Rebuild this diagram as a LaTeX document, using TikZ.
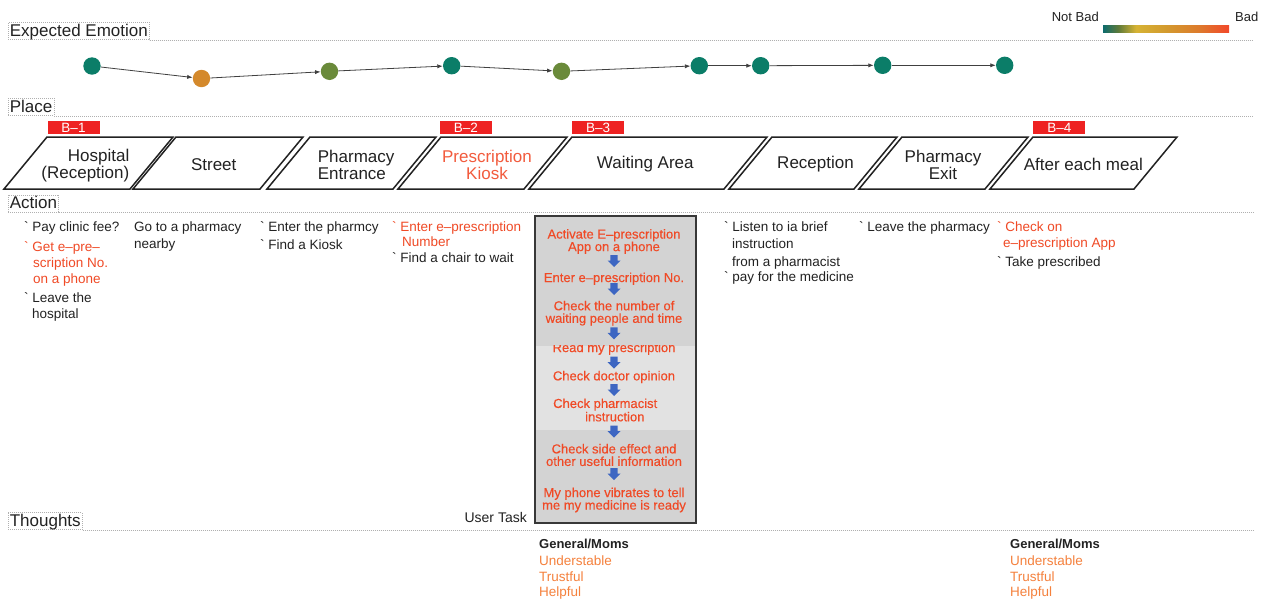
\documentclass[tikz,border=0pt]{standalone}
\usepackage{fontspec}
\setmainfont{Liberation Sans}
\newfontfamily\taskface{Liberation Sans}[FakeBold=0.35]
\usetikzlibrary{arrows.meta}

\definecolor{ink}{HTML}{222222}
\definecolor{alert}{HTML}{F04A26}
\definecolor{kiosk}{HTML}{F25B3D}
\definecolor{thought}{HTML}{F5813D}
\definecolor{dotgray}{HTML}{B0B0B0}
\definecolor{emoTeal}{HTML}{0B7D68}
\definecolor{emoOrange}{HTML}{D4892C}
\definecolor{emoOlive}{HTML}{6A8A3A}
\definecolor{tagred}{HTML}{EE2222}
\definecolor{taskDark}{HTML}{D3D3D3}
\definecolor{taskLight}{HTML}{E2E2E2}
\definecolor{flowblue}{HTML}{3D66C2}
\definecolor{g1}{HTML}{0E6B6C}
\definecolor{g2}{HTML}{5E7A3A}
\definecolor{g3}{HTML}{D6B334}
\definecolor{g4}{HTML}{D39A2E}
\definecolor{g5}{HTML}{DD7A2C}
\definecolor{g6}{HTML}{F2482A}

\pgfdeclarehorizontalshading{emoscale}{100bp}{color(0bp)=(g1); color(25bp)=(g1); color(31bp)=(g2); color(38bp)=(g3); color(50bp)=(g4); color(63bp)=(g5); color(75bp)=(g6); color(100bp)=(g6)}

% small grave tick in front of each action item
\newcommand\tk{{\XeTeXglyph\XeTeXcharglyph"60\relax}}
\newcommand\actfont{\fontsize{13.5}{16}\selectfont}
\newcommand\placefont{\fontsize{17}{16.5}\selectfont}
\newcommand\taskfont{\taskface\fontsize{13}{12.5}\selectfont}

\begin{document}
\begin{tikzpicture}[x=1pt,y=-1pt,
  hdr/.style={draw=dotgray, dash pattern=on 1pt off 1pt, line width=0.7pt,
    font=\fontsize{17}{17}\selectfont, text=ink, inner xsep=1.5pt, inner ysep=0.6pt,
    text height=13.2pt, text depth=2.9pt, anchor=south west},
  sepline/.style={draw=dotgray, dash pattern=on 1pt off 1pt, line width=0.7pt},
  emodot/.style={circle, minimum size=17.4pt, inner sep=0pt, draw=none},
  emoarrow/.style={draw=black!75, line width=0.8pt, -{Latex[length=5.5pt,width=4.2pt]}},
  placebox/.style={draw=ink, line width=1.5pt, fill=white},
  placelbl/.style={font=\placefont, text=ink, inner sep=0pt, yshift=-2pt},
  btag/.style={fill=tagred, text=white, font=\fontsize{13.5}{13.5}\selectfont,
    minimum width=52pt, minimum height=13pt, inner sep=0pt},
  act/.style={anchor=mid west, inner sep=0pt, font=\actfont, text=ink, yshift=-2.5pt},
  tasktxt/.style={font=\taskfont, text=alert, align=center, inner sep=0pt, yshift=-2pt},
  flowarrow/.style={fill=flowblue},
  thoughttxt/.style={anchor=mid west, inner sep=0pt, font=\fontsize{13.5}{16}\selectfont, text=thought, yshift=-2.5pt},
  smalltxt/.style={inner sep=0pt, text=ink, yshift=-2.5pt}
]
\useasboundingbox[fill=white] (0,0) rectangle (1264,600);

% ---------- section headers and separators ----------
\coordinate (endEmo) at (1253,40);
\coordinate (endPlace) at (1253,116);
\coordinate (endAct) at (1253,212.5);
\coordinate (endTh) at (1253,530);

\node[hdr] (hEmo) at (8,40) {Expected Emotion};
\draw[sepline] (hEmo.south east) -- (endEmo);
\node[hdr] (hPlace) at (8,116) {Place};
\draw[sepline] (hPlace.south east) -- (endPlace);
\node[hdr] (hAct) at (8,212.5) {Action};
\draw[sepline] (hAct.south east) -- (endAct);
\node[hdr] (hTh) at (8,530) {Thoughts};
\draw[sepline] (hTh.south east) -- (endTh);

% ---------- legend ----------
\node[smalltxt, anchor=mid east, font=\fontsize{13}{13}\selectfont] (lgNot) at (1099,16) {Not Bad};
\node[smalltxt, anchor=mid west, font=\fontsize{13}{13}\selectfont] (lgBad) at (1235,16) {Bad};
\node[shade, shading=emoscale, minimum width=126pt, minimum height=7pt, inner sep=0pt, anchor=north west] (lgBar) at (1103,25) {};

% ---------- expected emotion curve ----------
\node[emodot, fill=emoTeal]   (d1) at (92,66) {};
\node[emodot, fill=emoOrange] (d2) at (201.5,78.5) {};
\node[emodot, fill=emoOlive]  (d3) at (329.5,71.3) {};
\node[emodot, fill=emoTeal]   (d4) at (451.7,65.7) {};
\node[emodot, fill=emoOlive]  (d5) at (561.5,71.3) {};
\node[emodot, fill=emoTeal]   (d6) at (699.3,65.7) {};
\node[emodot, fill=emoTeal]   (d7) at (760.7,65.7) {};
\node[emodot, fill=emoTeal]   (d8) at (882.7,65.3) {};
\node[emodot, fill=emoTeal]   (d9) at (1004.7,65.3) {};
\draw[emoarrow] (d1) -- (d2);
\draw[emoarrow] (d2) -- (d3);
\draw[emoarrow] (d3) -- (d4);
\draw[emoarrow] (d4) -- (d5);
\draw[emoarrow] (d5) -- (d6);
\draw[emoarrow] (d6) -- (d7);
\draw[emoarrow] (d7) -- (d8);
\draw[emoarrow] (d8) -- (d9);

% ---------- places ----------
\foreach \a/\b in {47/173, 176/303, 310/436, 441/567, 572/767, 772/897, 902/1028, 1033/1177}
  \draw[placebox] (\a,137) -- (\b,137) -- ({\b-43},189) -- ({\a-43},189) -- cycle;

\node[placelbl, align=right, anchor=east] (pHosp) at (129.5,163.5) {Hospital\hspace{4pt}\\(Reception)};
\node[placelbl] (pStreet) at (213.7,162.7) {Street};
\node[placelbl, align=left, anchor=west] (pEntr) at (317.7,162.7) {Pharmacy\\Entrance};
\node[placelbl, align=center, text=kiosk] (pKiosk) at (487,162.7) {Prescription\\Kiosk};
\node[placelbl] (pWait) at (645.3,162.3) {Waiting Area};
\node[placelbl] (pRecep) at (815.5,162.3) {Reception};
\node[placelbl, align=center] (pExit) at (943,163) {Pharmacy\\Exit};
\node[placelbl] (pMeal) at (1083.3,162.3) {After each meal};

\node[btag] (b1) at (73.5,127.8) {B–1};
\node[btag] (b2) at (465.8,127.8) {B–2};
\node[btag] (b3) at (598.2,127.8) {B–3};
\node[btag] (b4) at (1059.3,127.8) {B–4};

% ---------- actions ----------
\node[act] (c1a) at (24,226) {\tk\ Pay clinic fee?};
\node[act, text=alert] (c1b) at (24,246) {\tk\ Get e–pre–};
\node[act, text=alert] (c1c) at (33,262) {scription No.};
\node[act, text=alert] (c1d) at (33,278) {on a phone};
\node[act] (c1e) at (24,297) {\tk\ Leave the};
\node[act] (c1f) at (32,313) {hospital};

\node[act] (c2a) at (134,226) {Go to a pharmacy};
\node[act] (c2b) at (134,243) {nearby};

\node[act] (c3a) at (260,226) {\tk\ Enter the pharmcy};
\node[act] (c3b) at (260,244) {\tk\ Find a Kiosk};

\node[act, text=alert] (c4a) at (392,226) {\tk\ Enter e–prescription};
\node[act, text=alert] (c4b) at (402,241) {Number};
\node[act] (c4c) at (392,257) {\tk\ Find a chair to wait};

\node[act] (c5a) at (724,226) {\tk\ Listen to ia brief};
\node[act] (c5b) at (732,243) {instruction};
\node[act] (c5c) at (732,261) {from a pharmacist};
\node[act] (c5d) at (724,276) {\tk\ pay for the medicine};

\node[act] (c6a) at (859,226) {\tk\ Leave the pharmacy};

\node[act, text=alert] (c7a) at (997,226) {\tk\ Check on};
\node[act, text=alert] (c7b) at (1003,242) {e–prescription App};
\node[act] (c7c) at (997,261) {\tk\ Take prescribed};

% ---------- user task flow ----------
\fill[taskDark]  (534,215) rectangle (695,346);
\fill[taskLight] (534,346) rectangle (695,430);
\fill[taskDark]  (534,430) rectangle (695,522);

\node[tasktxt] (t1) at (614,239.5) {Activate E–prescription\\App on a phone};
\node[tasktxt] (t2) at (614,276.7) {Enter e–prescription No.};
\node[tasktxt] (t3) at (614,311.2) {Check the number of\\waiting people and time};
\begin{scope}
  \clip (534,345) rectangle (695,362);
  \node[tasktxt] (t4) at (614,346.7) {Read my prescription};
\end{scope}
\node[tasktxt] (t5) at (614,375) {Check doctor opinion};
\node[tasktxt, anchor=mid west] (t6a) at (553,403.3) {Check pharmacist};
\node[tasktxt, anchor=mid west] (t6b) at (585,416.7) {instruction};
\node[tasktxt] (t7) at (614,453) {Check side effect and\\other useful information};
\node[tasktxt] (t8) at (614,498) {My phone vibrates to tell\\me my medicine is ready};

\foreach \yy in {261, 289, 333.3, 362.7, 390, 431.7, 474}
  \fill[flowarrow, shift={(614,\yy)}] (-3.6,-6) -- (3.6,-6) -- (3.6,-0.5) -- (6.5,-0.5) -- (0,6) -- (-6.5,-0.5) -- (-3.6,-0.5) -- cycle;

\node[draw=ink!90, line width=1.6pt, minimum width=161pt, minimum height=307pt, inner sep=0pt, anchor=north west] (task) at (534,215) {};
\node[smalltxt, anchor=mid east, font=\fontsize{14}{14}\selectfont] (utask) at (527,517) {User Task};

% ---------- thoughts ----------
\node[smalltxt, anchor=mid west, font=\fontsize{13}{13}\selectfont\bfseries] (g1h) at (539,543) {General/Moms};
\node[thoughttxt] (g1a) at (539,560) {Understable};
\node[thoughttxt] (g1b) at (539,576) {Trustful};
\node[thoughttxt] (g1c) at (539,591) {Helpful};

\node[smalltxt, anchor=mid west, font=\fontsize{13}{13}\selectfont\bfseries] (g2h) at (1010,543) {General/Moms};
\node[thoughttxt] (g2a) at (1010,560) {Understable};
\node[thoughttxt] (g2b) at (1010,576) {Trustful};
\node[thoughttxt] (g2c) at (1010,591) {Helpful};
\end{tikzpicture}
\end{document}
